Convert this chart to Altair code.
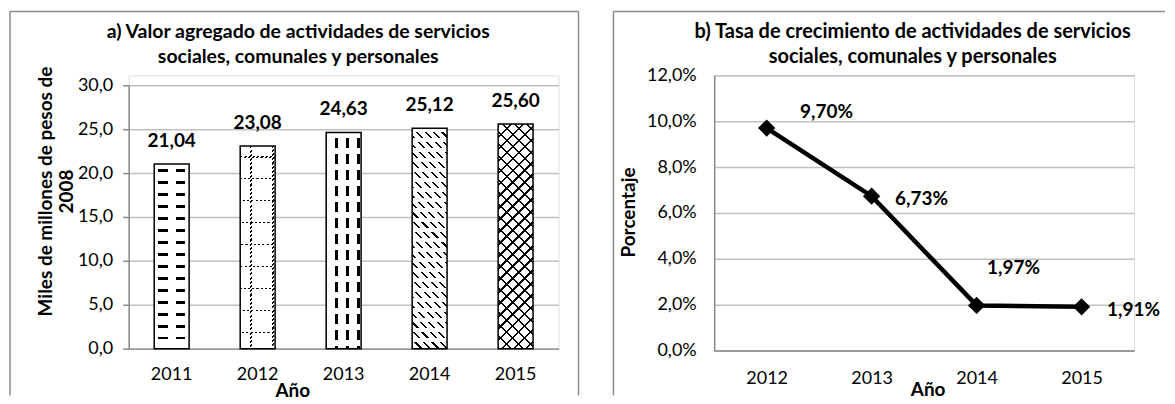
import math
import altair as alt
import pandas as pd

# ---------------- data ----------------
anios_a = ["2011", "2012", "2013", "2014", "2015"]
valores_a = [21.04, 23.08, 24.63, 25.12, 25.60]
anios_b = ["2012", "2013", "2014", "2015"]
tasas_b = [9.70, 6.73, 1.97, 1.91]
ticks_a = [0, 5, 10, 15, 20, 25, 30]
ticks_b = [0, 2, 4, 6, 8, 10, 12]

titulo_a = ["a) Valor agregado de actividades de servicios", "sociales, comunales y personales"]
titulo_b = ["b) Tasa de crecimiento de actividades de servicios", "sociales, comunales y personales"]
ytitle_a = ["Miles de millones de pesos de", "2008"]
ytitle_b = "Porcentaje"
xtitle = "Año"

df_a = pd.DataFrame({"anio": anios_a, "valor": valores_a})
df_b = pd.DataFrame({"anio": anios_b, "tasa": tasas_b})
one = pd.DataFrame({"k": [0]})

# ---------------- style ----------------
FONT = "Lato"
W_A, H_A, TOP_A = 431, 274, 10
W_B, H_B = 421, 276
PX_A = (H_A - TOP_A) / 30.0
BAR_W = 35
GRID = "#c0c0c0"
AXIS = "#8a8a8a"
BORDER = "#8c8c8c"


def grad(w, h, nx, ny, period, width, color, phase=0.0):
    n = math.hypot(nx, ny)
    nx, ny = nx / n, ny / n
    corners = [(0, 0), (1, 0), (0, 1), (1, 1)]
    D = [cx * w * nx + cy * h * ny for cx, cy in corners]
    i = min(range(4), key=lambda k: D[k])
    span = max(D) - min(D)
    vx, vy = w * nx, h * ny
    s = span / (vx * vx + vy * vy)
    ox, oy = corners[i]
    clear = "rgba(255,255,255,0)"
    stops = [{"offset": 0, "color": clear}]
    a = phase
    while a > 0:
        a -= period
    while a < span:
        b = a + width
        ta = min(max(a / span, 0), 1)
        tb = min(max(b / span, 0), 1)
        if tb > ta:
            stops += [{"offset": ta, "color": clear}, {"offset": ta, "color": color},
                      {"offset": tb, "color": color}, {"offset": tb, "color": clear}]
        a += period
    stops.append({"offset": 1, "color": clear})
    return {"gradient": "linear", "x1": ox, "y1": oy,
            "x2": ox + s * vx, "y2": oy + s * vy, "stops": stops}


patterns = {
    "2011": [(0, 1, 12, 3, "black", 5), (1, 0, 17.5, 8, "white", -4)],
    "2012": [(0, 1, 22, 1.5, "black", 10), (1, 0, 22, 1.5, "black", 10), (1, 1, 3, 1.5, "white", 0)],
    "2013": [(1, 0, 11, 3, "black", 8.5), (0, 1, 16, 6, "white", 0)],
    "2014": [(1, -1, 6, 1.5, "black", 0), (0, 1, 10, 4, "white", 0)],
    "2015": [(1, -1, 8.5, 1.5, "black", 0), (1, 1, 8.5, 1.5, "black", 0)],
}

lbl_offsets_b = {"2012": (60, -16), "2013": (50, 3), "2014": (37, -38), "2015": (52, 3)}

border = alt.Chart(one)


def title_marks(lines, cx, size):
    out = []
    for ln, yy in zip(lines, (-43, -18)):
        out.append(border.mark_text(font=FONT, fontSize=size, fontWeight="bold", color="black",
                                    align="center", baseline="middle")
                   .encode(x=alt.value(cx), y=alt.value(yy), text=alt.value(ln)))
    return out


# ---------------- left chart ----------------
x_a = alt.X("anio:N", scale=alt.Scale(paddingInner=0.4, paddingOuter=0.2),
            axis=alt.Axis(title=xtitle, labelAngle=0, ticks=False, labelFontSize=18,
                          labelFont=FONT, labelColor="black", labelPadding=17,
                          domainColor=AXIS, domainWidth=1.5,
                          titleFont=FONT, titleFontSize=19, titleFontWeight="bold",
                          titleColor="black", titleX=164, titleY=42, titleBaseline="middle",
                          titleAlign="center"))
y_a = alt.Y("valor:Q", scale=alt.Scale(domain=[0, 30], range=[H_A, TOP_A], nice=False),
            axis=alt.Axis(title=ytitle_a, values=ticks_a, grid=True, gridColor=GRID,
                          gridWidth=1.5, tickSize=6, tickColor=AXIS, tickWidth=1.5,
                          domainColor=AXIS, domainWidth=1.5, labelFont=FONT,
                          labelFontSize=18, labelColor="black", labelPadding=10,
                          labelExpr="replace(format(datum.value, '.1f'), '.', ',')",
                          titleFont=FONT, titleFontSize=19, titleFontWeight="bold",
                          titleColor="black", titleX=-73, titleY=116, titleAngle=-90,
                          titleBaseline="bottom", titleAlign="center", titleLineHeight=21))

base_a = alt.Chart(df_a).encode(x=x_a, y=y_a)
layers_a = [base_a.mark_bar(size=BAR_W, fill="white", strokeWidth=0)]
for anio, val in zip(anios_a, valores_a):
    for (nx, ny, per, wd, col, ph) in patterns[anio]:
        g = grad(BAR_W, val * PX_A, nx, ny, per, wd, col, ph)
        layers_a.append(base_a.transform_filter(alt.datum.anio == anio)
                        .mark_bar(size=BAR_W, fill=g, strokeWidth=0))
layers_a.append(base_a.mark_bar(size=BAR_W, fill="transparent", stroke="black", strokeWidth=1.5))
layers_a.append(base_a.transform_calculate(lbl="replace(format(datum.valor, '.2f'), '.', ',')")
                .mark_text(font=FONT, fontSize=19, fontWeight="bold", dy=-23,
                           baseline="middle", color="black")
                .encode(text="lbl:N"))
layers_a += [
    border.mark_rule(color=BORDER, strokeWidth=1.5).encode(x=alt.value(-119), x2=alt.value(451), y=alt.value(-64)),
    border.mark_rule(color=BORDER, strokeWidth=1.5).encode(x=alt.value(-119), y=alt.value(-64), y2=alt.value(321)),
    border.mark_rule(color=BORDER, strokeWidth=1.5).encode(x=alt.value(451), y=alt.value(-64), y2=alt.value(321)),
]
layers_a += title_marks(titulo_a, 170, 19.5)
chart_a = alt.layer(*layers_a).properties(width=W_A, height=H_A)

# ---------------- right chart ----------------
x_b = alt.X("anio:O", scale=alt.Scale(type="point", padding=0.5),
            axis=alt.Axis(title=xtitle, labelAngle=0, ticks=False, labelFontSize=18,
                          labelFont=FONT, labelColor="black", labelPadding=19,
                          domainColor=AXIS, domainWidth=1.5,
                          titleFont=FONT, titleFontSize=19, titleFontWeight="bold",
                          titleColor="black", titleX=214, titleY=39, titleBaseline="middle",
                          titleAlign="center"))
y_b = alt.Y("tasa:Q", scale=alt.Scale(domain=[0, 12], nice=False),
            axis=alt.Axis(title=ytitle_b, values=ticks_b, grid=True, gridColor=GRID,
                          gridWidth=1.5, ticks=False, domainColor=AXIS, domainWidth=1.5,
                          labelFont=FONT, labelFontSize=18, labelColor="black", labelPadding=18,
                          labelExpr="replace(format(datum.value, '.1f'), '.', ',') + '%'",
                          titleFont=FONT, titleFontSize=19, titleFontWeight="bold",
                          titleColor="black", titleX=-76, titleY=137, titleAngle=-90,
                          titleBaseline="bottom", titleAlign="center"))
base_b = alt.Chart(df_b).encode(x=x_b, y=y_b)
layers_b = [
    base_b.mark_line(color="black", strokeWidth=4.5),
    base_b.mark_point(shape="diamond", filled=True, size=300, color="black", opacity=1),
]
for anio in anios_b:
    dx, dy = lbl_offsets_b[anio]
    layers_b.append(base_b.transform_filter(alt.datum.anio == anio)
                    .transform_calculate(lbl="replace(format(datum.tasa, '.2f'), '.', ',') + '%'")
                    .mark_text(font=FONT, fontSize=19, fontWeight="bold", dx=dx, dy=dy,
                               baseline="middle", align="center", color="black")
                    .encode(text="lbl:N"))
layers_b += [
    border.mark_rule(color=BORDER, strokeWidth=1.5).encode(x=alt.value(-101), x2=alt.value(452), y=alt.value(-64)),
    border.mark_rule(color=BORDER, strokeWidth=1.5).encode(x=alt.value(-101), y=alt.value(-64), y2=alt.value(321)),
]
layers_b += title_marks(titulo_b, 199, 20)
chart_b = alt.layer(*layers_b).properties(width=W_B, height=H_B)

chart = alt.hconcat(chart_a, chart_b, spacing=156, bounds="flush").properties(
    padding={"left": 0, "top": 1, "right": 0, "bottom": 0}
).configure_view(stroke="transparent").configure(background="white")

chart.save("out.html", embed_options={"renderer": "svg", "actions": False})
